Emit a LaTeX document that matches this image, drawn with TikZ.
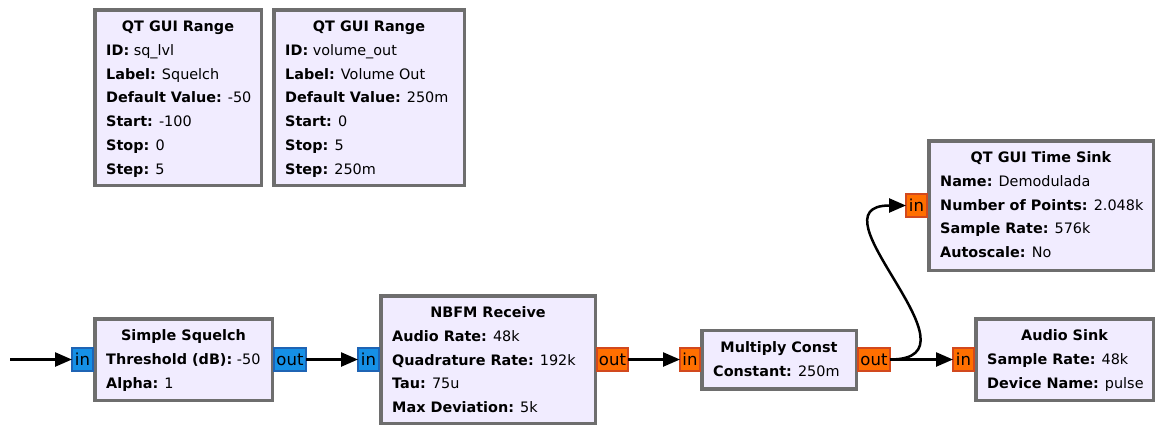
\documentclass[tikz,border=0pt]{standalone}
\usepackage{fontspec}
\setmainfont{DejaVu Sans}
\usetikzlibrary{arrows.meta}
\definecolor{blockfill}{HTML}{F1ECFF}
\definecolor{blockline}{HTML}{6E6E6E}
\definecolor{cplxfill}{HTML}{1590E6}
\definecolor{cplxline}{HTML}{1F64B4}
\definecolor{fltfill}{HTML}{FF6F00}
\definecolor{fltline}{HTML}{D2491E}
\newcommand{\gfont}{\fontsize{14.4}{17}\selectfont}
\newcommand{\pfont}{\fontsize{16.5}{18}\selectfont}
\tikzset{
  block/.style={draw=blockline, line width=3.5pt, fill=blockfill, inner sep=0pt, outer sep=0pt},
  btitle/.style={anchor=base, font=\gfont\bfseries, inner sep=0pt},
  prop/.style={anchor=base west, inner sep=0pt},
  port/.style={line width=1.3pt, inner sep=0pt, outer sep=0pt, minimum height=23pt, text=black, font=\pfont},
  cport/.style={port, fill=cplxfill, draw=cplxline},
  fport/.style={port, fill=fltfill, draw=fltline},
  inport/.style={anchor=east, minimum width=21pt},
  outport/.style={anchor=west, minimum width=32pt},
  wire/.style={line width=2.5pt, -{Triangle[length=17pt,width=14pt]}}
}
\begin{document}
\begin{tikzpicture}[x=1pt, y=-1pt, font=\gfont]
\useasboundingbox (0,0) rectangle (1159,426);

% ---- variable blocks ----
\node[block, minimum width=166.5pt, minimum height=175.5pt] (r1) at (178,97.5) {};
\node[btitle] (r1t) at (178,31.5) {QT GUI Range};
\foreach \t [count=\i] in {{\textbf{ID:} sq\_lvl}, {\textbf{Label:} Squelch}, {\textbf{Default Value:} -50}, {\textbf{Start:} -100}, {\textbf{Stop:} 0}, {\textbf{Step:} 5}}
  \node[prop] (r1-\i) at (106,{55.5+23.7*(\i-1)}) {\t};

\node[block, minimum width=190.5pt, minimum height=175.5pt] (r2) at (369,97.5) {};
\node[btitle] (r2t) at (369,31.5) {QT GUI Range};
\foreach \t [count=\i] in {{\textbf{ID:} volume\_out}, {\textbf{Label:} Volume Out}, {\textbf{Default Value:} 250m}, {\textbf{Start:} 0}, {\textbf{Stop:} 5}, {\textbf{Step:} 250m}}
  \node[prop] (r2-\i) at (285,{55.5+23.7*(\i-1)}) {\t};

% ---- Simple Squelch ----
\node[block, minimum width=177.5pt, minimum height=81.5pt] (sq) at (183.5,359.5) {};
\node[btitle] (sqt) at (183.5,340.5) {Simple Squelch};
\foreach \t [count=\i] in {{\textbf{Threshold (dB):} -50}, {\textbf{Alpha:} 1}}
  \node[prop] (sq-\i) at (106,{364.5+23.7*(\i-1)}) {\t};
\node[cport, inport] (sqin) at ([xshift=-1.75pt]sq.west) {in};
\node[cport, outport] (sqout) at ([xshift=1.75pt]sq.east) {out};

% ---- NBFM Receive ----
\node[block, minimum width=214.5pt, minimum height=127.5pt] (nb) at (488,359.5) {};
\node[btitle] (nbt) at (488,317.5) {NBFM Receive};
\foreach \t [count=\i] in {{\textbf{Audio Rate:} 48k}, {\textbf{Quadrature Rate:} 192k}, {\textbf{Tau:} 75u}, {\textbf{Max Deviation:} 5k}}
  \node[prop] (nb-\i) at (392,{341.5+23.7*(\i-1)}) {\t};
\node[cport, inport] (nbin) at ([xshift=-1.75pt]nb.west) {in};
\node[fport, outport, minimum width=31pt] (nbout) at ([xshift=1.75pt]nb.east) {out};

% ---- Multiply Const ----
\node[block, minimum width=154.5pt, minimum height=58.5pt] (mc) at (779,359.5) {};
\node[btitle] (mct) at (779,352.5) {Multiply Const};
\node[prop] (mc-1) at (713,376.5) {\textbf{Constant:} 250m};
\node[fport, inport, minimum width=20pt] (mcin) at ([xshift=-1.75pt]mc.west) {in};
\node[fport, outport] (mcout) at ([xshift=1.75pt]mc.east) {out};

% ---- QT GUI Time Sink ----
\node[block, minimum width=224.5pt, minimum height=129.5pt] (ts) at (1041,205.5) {};
\node[btitle] (tst) at (1041,162.5) {QT GUI Time Sink};
\foreach \t [count=\i] in {{\textbf{Name:} Demodulada}, {\textbf{Number of Points:} 2.048k}, {\textbf{Sample Rate:} 576k}, {\textbf{Autoscale:} No}}
  \node[prop] (ts-\i) at (940,{186.5+23.7*(\i-1)}) {\t};
\node[fport, inport] (tsin) at ([xshift=-1.75pt]ts.west) {in};

% ---- Audio Sink ----
\node[block, minimum width=177.5pt, minimum height=81.5pt] (as) at (1064.5,359.5) {};
\node[btitle] (ast) at (1064.5,340.5) {Audio Sink};
\foreach \t [count=\i] in {{\textbf{Sample Rate:} 48k}, {\textbf{Device Name:} pulse}}
  \node[prop] (as-\i) at (987,{364.5+23.7*(\i-1)}) {\t};
\node[fport, inport] (asin) at ([xshift=-1.75pt]as.west) {in};

% ---- connections ----
\coordinate (src) at (10,359.5);
\draw[wire] (src) -- (sqin.west);
\draw[wire] (sqout.east) -- (nbin.west);
\draw[wire] (nbout.east) -- (mcin.west);
\draw[wire] (mcout.east) -- (asin.west);
\draw[wire] (mcout.east) .. controls +(100,0) and +(-100,0) .. (tsin.west);
\end{tikzpicture}
\end{document}
